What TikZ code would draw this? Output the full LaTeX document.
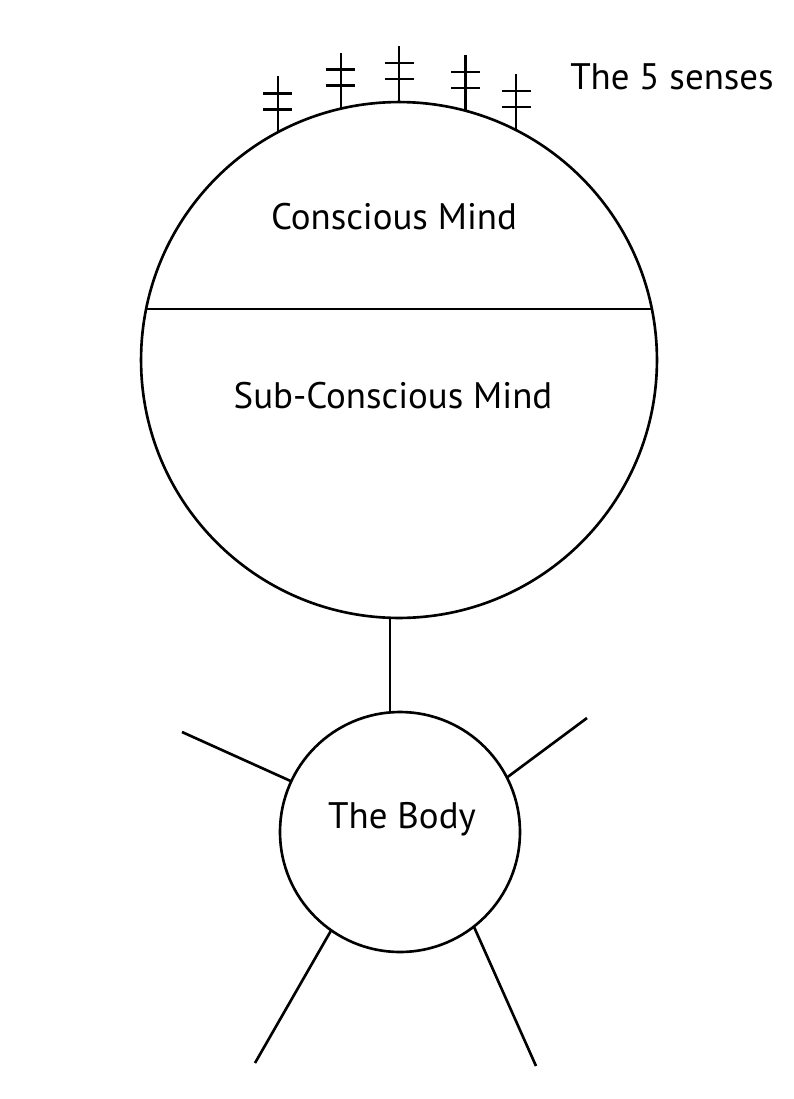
\documentclass[tikz,border=0pt]{standalone}
\usepackage{fontspec}
\setmainfont{PT Sans}
\usetikzlibrary{positioning}
\tikzset{
  part/.style={
    circle, draw=black, line width=1.5pt,
    inner sep=0pt, outer sep=0pt
  },
  caption/.style={
    anchor=base, inner sep=0pt,
    font=\fontsize{21pt}{24pt}\selectfont
  },
  line/.style={line width=1.5pt, black},
  sense/.style={line width=1.5pt, black}
}
\begin{document}
\begin{tikzpicture}[x=0.02cm, y=-0.02cm]
  \useasboundingbox (0,0) rectangle (794,1099);

  \node[part, minimum size=10.32cm] (mind) at (399,360) {};

  \node[part, minimum size=4.8cm] (body) at (400,832) {};

  \node[caption] (conscious) at (394,229) {Conscious Mind};
  \node[caption] (subconscious) at (393,408) {Sub-Conscious Mind};
  \node[caption] (bodytext) at (402,828) {The Body};
  \node[caption] (senses) at (672,89) {The 5 senses};

  % line between the two halves of the mind
  \draw[line] (mind.center) ++(-252.9,-51) -- ++(505.8,0);

  % the five senses
  \foreach \a in {118,103.7,90,75.2,63.8} {
    \draw[sense] (mind.\a) -- ++(0,-56);
    \draw[sense] ([shift={(-14.5,-23)}]mind.\a) -- ++(29,0);
    \draw[sense] ([shift={(-14.5,-39)}]mind.\a) -- ++(29,0);
  }

  % mind to body
  \draw[line] (mind.268.4) -- (mind.268.4 |- body.north);

  % limbs
  \coordinate (armleft) at (182,732);
  \coordinate (armright) at (587,718);
  \coordinate (legleft) at (255,1063);
  \coordinate (legright) at (536,1066);
  \draw[line] (body.155.6) -- (armleft);
  \draw[line] (body.27.8) -- (armright);
  \draw[line] (body.235) -- (legleft);
  \draw[line] (body.308) -- (legright);

\end{tikzpicture}
\end{document}
